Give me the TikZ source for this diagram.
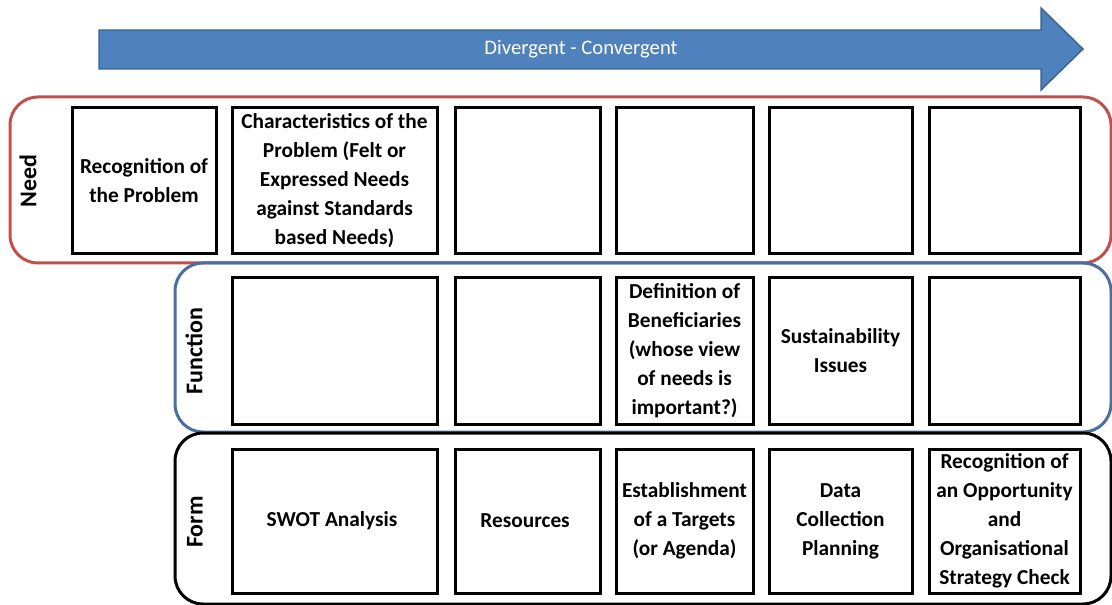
\documentclass[tikz,border=0pt]{standalone}
\usepackage{fontspec}
\setmainfont{Carlito}
\usetikzlibrary{shapes,backgrounds,calc,arrows}

\definecolor{needred}{HTML}{C0504D}
\definecolor{funcblue}{HTML}{4A6E9F}
\definecolor{flowfill}{HTML}{4F81BD}
\definecolor{flowline}{HTML}{3A6595}

\begin{document}
\begin{tikzpicture}[x=0.75pt, y=-0.75pt]

%% styles
\tikzstyle{band}=[draw, rounded corners=21pt, line width=2.25pt, inner sep=0pt]

\tikzstyle{cell}=[draw, text centered, align=center, inner sep=0pt, line width=2.25pt, minimum height=109.5pt, font=\bfseries\fontsize{16}{21.75}\selectfont]

\tikzstyle{rowname}=[rotate=90, inner sep=0pt, font=\bfseries\fontsize{18}{22}\selectfont]

\useasboundingbox (0,0) rectangle (1112,605);

%% direction arrow
\draw[fill=flowfill, draw=flowline, line width=1.1pt]
  (99,30) -- (1041,30) -- (1041,8) -- (1083,49) -- (1041,90) -- (1041,69) -- (99,69) -- cycle;

\node(flow)[text=white, font=\fontsize{15.5}{18}\selectfont] at (581, 49)
{
Divergent - Convergent
};

%% bands
\node(need)[style = band, draw=needred, minimum width=825.75pt, minimum height=124.5pt] at (560.5, 180) {};

\node(function)[style = band, draw=funcblue, minimum width=702pt, minimum height=126.75pt] at (643, 347.5) {};

\node(form)[style = band, draw=black, minimum width=702pt, minimum height=128.25pt] at (643, 518.5) {};

\node(needname)[style = rowname] at (28, 181) {Need};
\node(funcname)[style = rowname] at (194, 351) {Function};
\node(formname)[style = rowname] at (195, 522) {Form};

%% need row
\node(N1)[style = cell, minimum width=108pt] at (144, 181)
{
Recognition of\\the Problem
};

\node(N2)[style = cell, minimum width=153.75pt] at (334.5, 181)
{
Characteristics of the\\Problem (Felt or\\Expressed Needs\\against Standards\\based Needs)
};

\node(N3)[style = cell, minimum width=108.75pt] at (527.5, 181) {};
\node(N4)[style = cell, minimum width=102.75pt] at (684.5, 181) {};
\node(N5)[style = cell, minimum width=107.25pt] at (840.5, 181) {};
\node(N6)[style = cell, minimum width=113.25pt] at (1004.5, 181) {};

%% function row
\node(F1)[style = cell, minimum width=153.75pt] at (334.5, 351) {};
\node(F2)[style = cell, minimum width=108.75pt] at (527.5, 351) {};

\node(F3)[style = cell, minimum width=102.75pt] at (684.5, 351)
{
Definition of\\Beneficiaries\\(whose view\\of needs is\\important?)
};

\node(F4)[style = cell, minimum width=107.25pt] at (840.5, 351)
{
Sustainability\\Issues
};

\node(F5)[style = cell, minimum width=113.25pt] at (1004.5, 351) {};

%% form row
\node(R1)[style = cell, minimum width=153.75pt, minimum height=108pt] at (334.5, 521)
{
SWOT Analysis
};

\node(R2)[style = cell, minimum width=108.75pt, minimum height=108pt] at (527.5, 521)
{
Resources
};

\node(R3)[style = cell, minimum width=102.75pt, minimum height=108pt] at (684.5, 521)
{
Establishment\\of a Targets\\(or Agenda)
};

\node(R4)[style = cell, minimum width=107.25pt, minimum height=108pt] at (840.5, 521)
{
Data\\Collection\\Planning
};

\node(R5)[style = cell, minimum width=113.25pt, minimum height=108pt] at (1004.5, 521)
{
Recognition of\\an Opportunity\\and\\Organisational\\Strategy Check
};

\end{tikzpicture}
\end{document}
